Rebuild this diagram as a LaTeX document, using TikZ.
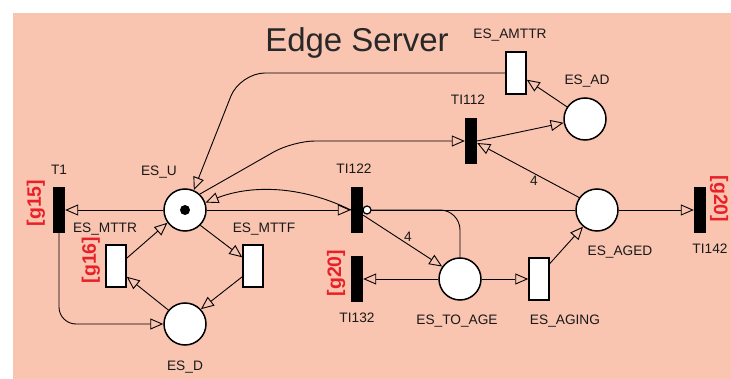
\documentclass[tikz,border=0pt]{standalone}
\usepackage{fontspec}
\setmainfont{Liberation Sans}
\usetikzlibrary{arrows.meta}
\definecolor{bgsalmon}{RGB}{249,196,176}
\definecolor{guardred}{RGB}{232,32,40}
\definecolor{titlegray}{RGB}{40,40,40}
\tikzset{
  place/.style={circle,draw=black,line width=1.5pt,fill=white,minimum size=42pt,inner sep=0pt},
  timedtr/.style={rectangle,draw=black,line width=1.5pt,fill=white,minimum width=20pt,minimum height=42pt,inner sep=0pt},
  immtr/.style={rectangle,fill=black,minimum width=12pt,minimum height=46pt,inner sep=0pt},
  lbl/.style={font=\fontsize{13.7}{14}\selectfont,inner sep=0pt,text=black!90},
  guard/.style={font=\bfseries\fontsize{19.5}{20}\selectfont,text=guardred,inner sep=0pt},
  arc/.style={line width=0.9pt,-{Triangle[open,length=13pt,width=11pt,line width=0.9pt]}},
  plainarc/.style={line width=0.9pt},
  inhib/.style={circle,draw=black,line width=1.2pt,fill=white,minimum size=8pt,inner sep=0pt},
  token/.style={circle,fill=black,minimum size=10pt,inner sep=0pt}
}
\begin{document}
\begin{tikzpicture}[x=1pt,y=-1pt]
\useasboundingbox (0,0) rectangle (731,379);
\fill[bgsalmon] (13,13) rectangle (731,379);
\node[font=\fontsize{33}{36}\selectfont,text=titlegray,inner sep=0pt] (title) at (357,43) {Edge Server};

% places
\node[place] (ESU) at (185,210) {};
\node[token] (tok) at (185,210) {};
\node[place] (ESD) at (185,324) {};
\node[place] (TOAGE) at (460,279) {};
\node[place] (AGED) at (597,210) {};
\node[place] (AD) at (585,119) {};

% transitions
\node[immtr] (T1) at (59,210) {};
\node[timedtr] (MTTR) at (116,266) {};
\node[timedtr] (MTTF) at (253,266) {};
\node[immtr] (TI122) at (357,210) {};
\node[immtr] (TI132) at (357,279) {};
\node[timedtr] (AGING) at (539,279) {};
\node[immtr] (TI142) at (700,210) {};
\node[immtr] (TI112) at (471,141) {};
\node[timedtr] (AMTTR) at (516,73) {};

% labels
\node[lbl] (lT1) at (59,170) {T1};
\node[lbl] (lESU) at (159,172) {ES\_U};
\node[lbl] (lMTTR) at (105,229) {ES\_MTTR};
\node[lbl] (lMTTF) at (264,229) {ES\_MTTF};
\node[lbl] (lESD) at (185,367) {ES\_D};
\node[lbl] (lTI122) at (354,169) {TI122};
\node[lbl] (lTI132) at (357,318) {TI132};
\node[lbl] (lTOAGE) at (457,321) {ES\_TO\_AGE};
\node[lbl] (lAGING) at (565,321) {ES\_AGING};
\node[lbl] (lAGED) at (620,252) {ES\_AGED};
\node[lbl] (lTI142) at (710,249) {TI142};
\node[lbl] (lAD) at (587,81) {ES\_AD};
\node[lbl] (lAMTTR) at (510,35) {ES\_AMTTR};
\node[lbl] (lTI112) at (468,100) {TI112};

% guards
\node[guard,rotate=90] (g15) at (36,203) {[g15]};
\node[guard,rotate=90] (g16) at (91,260) {[g16]};
\node[guard,rotate=90] (g20a) at (336,273) {[g20]};
\node[guard,rotate=-90] (g20b) at (719,199) {[g20]};

% arcs
\draw[arc] (ESU.west) -- (T1.east);
\draw[arc] (ESU.east) -- (TI122.west);
\draw[arc] (TI122.west) .. controls (300,185) and (250,185) .. (ESU.20);
\draw[arc,rounded corners=22pt] (ESU.47) -- (293,141) -- (TI112.west);
\draw[arc,rounded corners=25pt] (AMTTR.west) -- (240,73) -- (ESU.66);
\draw[arc] (AD.146) -- (AMTTR.-32);
\draw[arc] (TI112.east) -- (AD.190);
\draw[arc] (AGED.145) -- (TI112.-18);
\node[lbl] (w1) at (534,181) {4};
\draw[arc] (AGED.east) -- (TI142.west);
\draw[arc] (TI122.-40) -- (TOAGE.145);
\node[lbl] (w2) at (408,237) {4};
\draw[arc] (TOAGE.west) -- (TI132.east);
\draw[arc] (TOAGE.east) -- (AGING.west);
\draw[arc] (AGING.55) -- (AGED.-130);
\draw[arc] (ESU.-45) -- (MTTF.141);
\draw[arc] (MTTF.-135) -- (ESD.43);
\draw[arc] (ESD.140) -- (MTTR.-45);
\draw[arc] (MTTR.36) -- (ESU.-144);
\draw[arc,rounded corners=17pt] (T1.south) -- (59,324) -- (ESD.west);

% inhibitor arcs
\coordinate (inhc) at (367,210);
\draw[plainarc] (AGED.west) -- (inhc);
\draw[plainarc,rounded corners=20pt] (TOAGE.north) -- (460,210) -- (inhc);
\node[inhib] (inh) at (inhc) {};
\end{tikzpicture}
\end{document}
